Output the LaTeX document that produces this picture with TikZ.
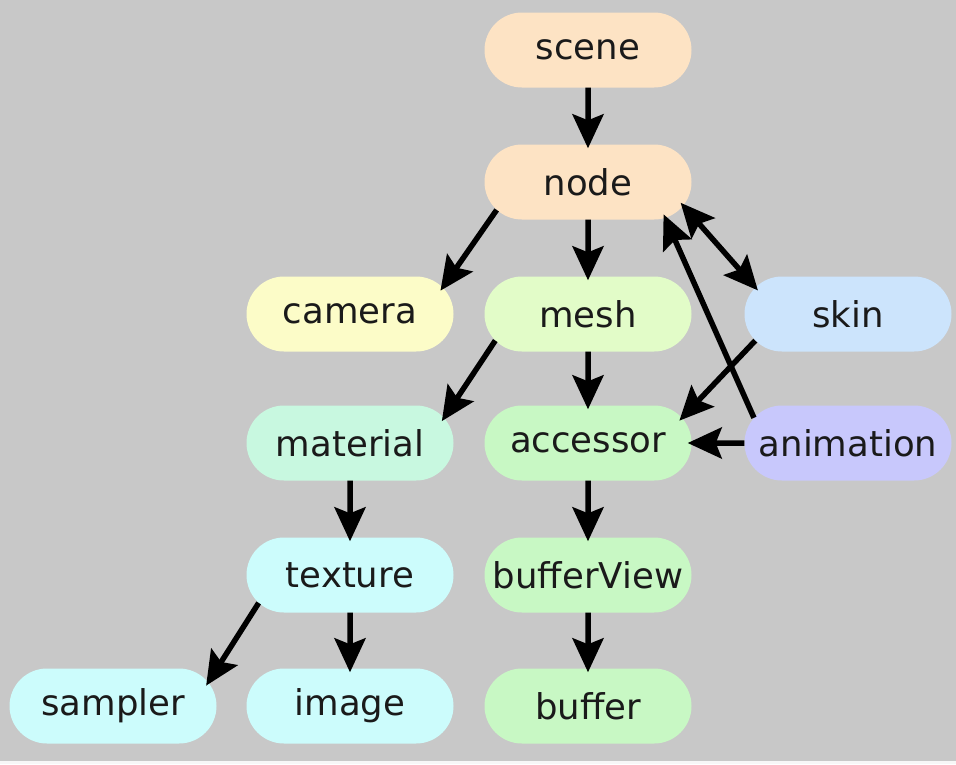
\documentclass[tikz,border=0pt]{standalone}
\usepackage{fontspec}
\setmainfont{DejaVu Sans}
\usetikzlibrary{arrows.meta,shapes.misc}
\definecolor{bg}{HTML}{C8C8C8}
\definecolor{cpeach}{HTML}{FDE3C4}
\definecolor{cyellow}{HTML}{FCFCC8}
\definecolor{cmesh}{HTML}{E2FCC8}
\definecolor{cgreen}{HTML}{C8F8C4}
\definecolor{cmint}{HTML}{C8F8E0}
\definecolor{ccyan}{HTML}{CCFCFC}
\definecolor{cblue}{HTML}{CCE4FC}
\definecolor{cviolet}{HTML}{C8C8FC}
\definecolor{txt}{HTML}{1A1A1A}
\tikzset{
  pill/.style={rounded rectangle, minimum width=207pt, minimum height=75pt, inner sep=0pt,
    draw=none, text=txt, font=\fontsize{35.5}{40}\selectfont},
  bigtip/.tip={Stealth[length=34pt,width=31pt,inset=6pt]},
  link/.style={line width=5.5pt, draw=black, -bigtip, shorten >=-4pt},
  dlink/.style={line width=5.5pt, draw=black, bigtip-bigtip, shorten >=-4pt, shorten <=-4pt}
}
\begin{document}
\begin{tikzpicture}[x=1pt,y=-1pt]
\fill[bg] (0,0) rectangle (956,764);
\fill[white!85!bg] (0,761) rectangle (956,764);
\useasboundingbox (0,0) rectangle (956,764);
\node[pill, fill=cpeach] (scene) at (588,50) {scene};
\node[pill, fill=cpeach] (node) at (588,182) {node};
\node[pill, fill=cyellow] (camera) at (350,314) {camera};
\node[pill, fill=cmesh] (mesh) at (588,314) {mesh};
\node[pill, fill=cblue] (skin) at (848,314) {skin};
\node[pill, fill=cmint] (material) at (350,443) {material};
\node[pill, fill=cgreen] (accessor) at (588,443) {accessor};
\node[pill, fill=cviolet] (animation) at (848,443) {animation};
\node[pill, fill=ccyan] (texture) at (350,575) {texture};
\node[pill, fill=cgreen] (bufferView) at (588,575) {bufferView};
\node[pill, fill=ccyan] (sampler) at (113,706) {sampler};
\node[pill, fill=ccyan] (image) at (350,706) {image};
\node[pill, fill=cgreen] (buffer) at (588,706) {buffer};

\draw[link] (scene) -- (node);
\draw[link] (node.197) -- (camera.16);
\draw[link] (node) -- (mesh);
\draw[dlink] (node.346) -- (skin.164);
\draw[link] (animation.165) -- (node.335);
\draw[link] (mesh.196) -- (material.15);
\draw[link] (mesh) -- (accessor);
\draw[link] (skin.196) -- (accessor.15);
\draw[link] (animation) -- (accessor);
\draw[link] (material) -- (texture);
\draw[link] (accessor) -- (bufferView);
\draw[link] (bufferView) -- (buffer);
\draw[link] (texture.197) -- (sampler.14);
\draw[link] (texture) -- (image);
\end{tikzpicture}
\end{document}
